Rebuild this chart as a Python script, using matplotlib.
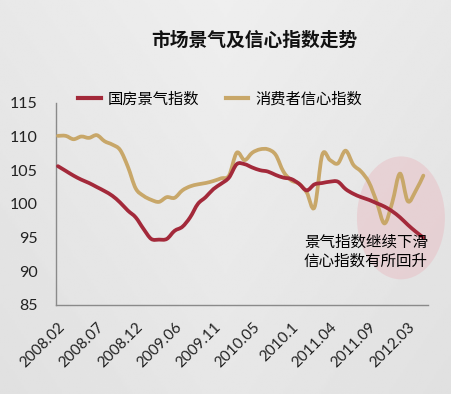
import numpy as np
import matplotlib
matplotlib.use("Agg")
import matplotlib.pyplot as plt
from matplotlib.path import Path
from matplotlib.patches import PathPatch, Ellipse
from matplotlib.lines import Line2D

plt.rcParams['font.family'] = ['Noto Sans CJK SC', 'DejaVu Sans']

# monthly data, January missing each year (combined with Feb)
months = ['2008.02', '2008.03', '2008.04', '2008.05', '2008.06', '2008.07', '2008.08',
          '2008.09', '2008.10', '2008.11', '2008.12', '2009.02', '2009.03', '2009.04',
          '2009.05', '2009.06', '2009.07', '2009.08', '2009.09', '2009.10', '2009.11',
          '2009.12', '2010.02', '2010.03', '2010.04', '2010.05', '2010.06', '2010.07',
          '2010.08', '2010.09', '2010.1', '2010.11', '2010.12', '2011.02', '2011.03',
          '2011.04', '2011.05', '2011.06', '2011.07', '2011.08', '2011.09', '2011.10',
          '2011.11', '2011.12', '2012.02', '2012.03', '2012.04', '2012.05']

guofang = [105.6, 104.9, 104.2, 103.6, 103.1, 102.5, 101.9, 101.2, 100.2, 99.0,
           98.0, 96.3, 94.8, 94.7, 94.8, 96.0, 96.6, 98.0, 100.0, 101.0,
           102.2, 103.0, 103.9, 105.9, 105.9, 105.4, 105.0, 104.8, 104.3, 103.9,
           103.7, 103.0, 102.0, 102.9, 103.1, 103.3, 103.3, 102.2, 101.5, 101.0,
           100.6, 100.1, 99.6, 98.9, 98.0, 96.9, 95.9, 95.0]

xinxin = [110.1, 110.1, 109.6, 110.0, 109.8, 110.2, 109.3, 108.8, 108.0, 105.5,
          102.3, 101.2, 100.6, 100.3, 101.0, 100.9, 102.0, 102.6, 102.9, 103.1,
          103.4, 103.8, 104.2, 107.6, 106.5, 107.6, 108.1, 108.1, 107.3, 104.8,
          103.5, 103.0, 101.7, 99.5, 107.3, 106.5, 106.0, 107.9, 105.8, 104.8,
          103.2, 100.3, 97.1, 100.2, 104.5, 100.4, 101.9, 104.2]

yticks = [85, 90, 95, 100, 105, 110, 115]
label_idx = [0, 5, 10, 15, 20, 25, 30, 35, 40, 45]

red = '#a3293a'
tan = '#c8a769'


def smooth_path(xs, ys):
    # excel-like smoothed line: catmull-rom turned into bezier segments
    pts = np.column_stack([xs, ys]).astype(float)
    verts = [pts[0]]
    codes = [Path.MOVETO]
    n = len(pts)
    for i in range(n - 1):
        p0 = pts[i - 1] if i > 0 else pts[i]
        p1 = pts[i]
        p2 = pts[i + 1]
        p3 = pts[i + 2] if i + 2 < n else pts[i + 1]
        c1 = p1 + (p2 - p0) / 6.0
        c2 = p2 - (p3 - p1) / 6.0
        verts += [c1, c2, p2]
        codes += [Path.CURVE4] * 3
    return Path(verts, codes)


fig = plt.figure(figsize=(4.51, 3.94), dpi=100)

# grey background with a soft gradient
bg = fig.add_axes([0, 0, 1, 1], zorder=-10)
gy, gx = np.mgrid[0:1:200j, 0:1:200j]
grad = 0.935 - 0.05 * np.abs(gx - 0.5) - 0.03 * gy
bg.imshow(grad, cmap='gray', vmin=0, vmax=1, extent=[0, 1, 0, 1], aspect='auto')
bg.axis('off')

ax = fig.add_axes([0.124, 0.226, 0.825, 0.513])
ax.patch.set_alpha(0)

ell = Ellipse((0.889, 0.447), 0.195, 0.312, transform=fig.transFigure,
              facecolor='#e8c4c9', edgecolor='none', alpha=0.6, zorder=0, clip_on=False)
ax.add_patch(ell)

x = np.arange(len(months))
ax.add_patch(PathPatch(smooth_path(x, xinxin), facecolor='none', edgecolor=tan,
                       lw=2.7, capstyle='round', joinstyle='round', zorder=3))
ax.add_patch(PathPatch(smooth_path(x, guofang), facecolor='none', edgecolor=red,
                       lw=2.7, capstyle='round', joinstyle='round', zorder=4))

ax.set_xlim(-0.26, 47.6)
ax.set_ylim(85, 115)
ax.set_yticks(yticks)
ax.set_yticklabels([str(v) for v in yticks], family=['Lato', 'DejaVu Sans'], fontsize=11.5)
ax.set_xticks(label_idx)
ax.set_xticklabels([months[i] for i in label_idx], rotation=45, ha='right', va='top',
                   rotation_mode='anchor', family=['Lato', 'DejaVu Sans'], fontsize=11)
ax.tick_params(axis='y', length=0, pad=13, colors='#222222')
ax.tick_params(axis='x', length=0, pad=11, colors='#222222')
for s in ['top', 'right']:
    ax.spines[s].set_visible(False)
for s in ['left', 'bottom']:
    ax.spines[s].set_color('#8a8a8a')
    ax.spines[s].set_linewidth(1.0)

handles = [Line2D([], [], color=red, lw=3), Line2D([], [], color=tan, lw=3)]
fig.legend(handles, ['国房景气指数', '消费者信心指数'], loc='center left',
           bbox_to_anchor=(0.16, 0.749), ncol=2, frameon=False, fontsize=11,
           handlelength=1.5, handletextpad=0.45, columnspacing=1.7, borderaxespad=0)

fig.text(0.563, 0.898, '市场景气及信心指数走势', ha='center', va='center',
         fontsize=13.5, fontweight='bold', color='#111111')

fig.text(0.949, 0.36, '景气指数继续下滑\n信心指数有所回升', ha='right', va='center',
         fontsize=11.2, fontweight='medium', color='#000000', linespacing=1.15)

fig.savefig('out.png', dpi=100)
